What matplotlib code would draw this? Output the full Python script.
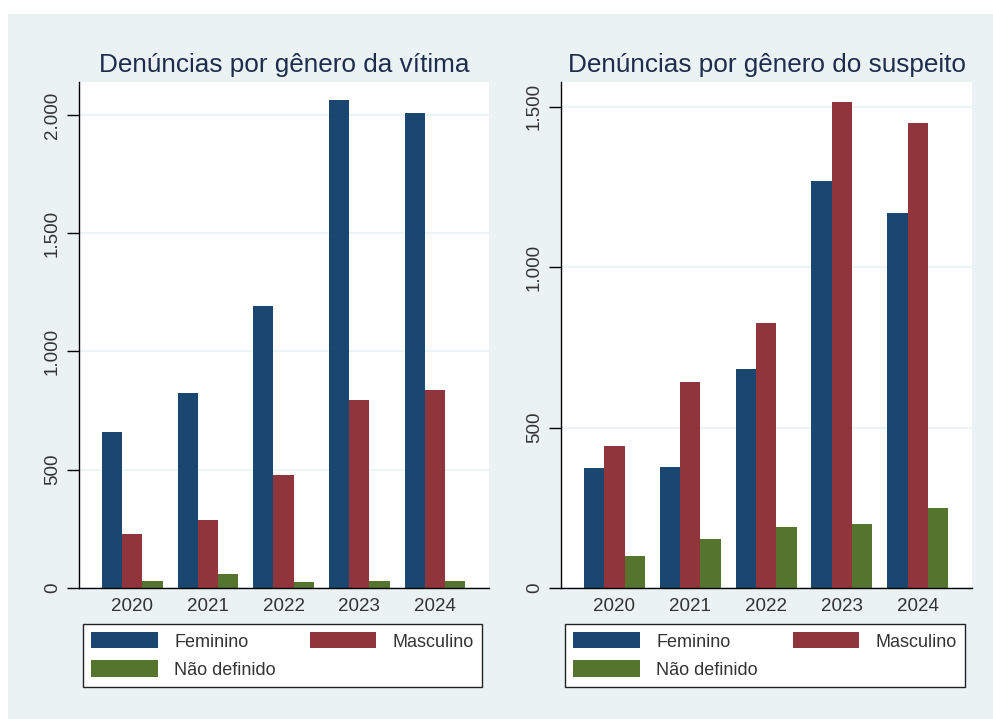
import matplotlib
matplotlib.use("Agg")
import matplotlib.pyplot as plt
import numpy as np
from matplotlib.patches import Rectangle, Patch

years = ["2020", "2021", "2022", "2023", "2024"]
series_names = ["Feminino", "Masculino", "Não definido"]

vitima_fem = [659, 823, 1191, 2064, 2006]
vitima_masc = [230, 289, 478, 795, 835]
vitima_nd = [31, 60, 26, 31, 31]

suspeito_fem = [373, 378, 681, 1270, 1169]
suspeito_masc = [444, 642, 825, 1516, 1448]
suspeito_nd = [100, 154, 190, 201, 250]

titles = ["Denúncias por gênero da vítima", "Denúncias por gênero do suspeito"]
yticks_left = [0, 500, 1000, 1500, 2000]
yticks_right = [0, 500, 1000, 1500]

colors = ["#1A476F", "#90353B", "#55752F"]
bg = "#EAF2F3"
title_color = "#1E2C4E"
text_color = "#333333"

plt.rcParams['font.family'] = ['Liberation Sans', 'DejaVu Sans']

W, H = 993, 719
fig = plt.figure(figsize=(W / 100, H / 100), dpi=100)
fig.patch.set_facecolor("white")
fig.add_artist(Rectangle((8 / W, 0), (W - 8) / W, (H - 14) / H,
                         transform=fig.transFigure, facecolor=bg,
                         edgecolor="none", zorder=-10))


def fmt(v):
    return f"{v:,}".replace(",", ".")


def panel(x0, x1, data, yticks, ymax, title):
    y0, y1 = 82, 588
    ax = fig.add_axes([x0 / W, 1 - y1 / H, (x1 - x0) / W, (y1 - y0) / H])
    ax.set_facecolor("white")
    x = np.arange(len(years))
    bw = 0.268
    for i, (vals, c) in enumerate(zip(data, colors)):
        ax.bar(x + (i - 1) * bw, vals, width=bw, color=c, linewidth=0, zorder=3)
    ax.set_xlim(-0.705, 4.715)
    ax.set_ylim(0, ymax)
    ax.set_yticks(yticks)
    ax.set_yticklabels([fmt(v) for v in yticks], rotation=90, va="center",
                       fontsize=13.5, color=text_color)
    ax.set_xticks(x)
    ax.set_xticklabels(years, fontsize=13.5, color=text_color)
    ax.tick_params(axis="x", length=0, pad=7)
    ax.tick_params(axis="y", length=9, width=1, pad=4, color="#000000")
    for y in yticks:
        ax.axhline(y, color=bg, lw=1.2, zorder=1)
    for s in ["top", "right"]:
        ax.spines[s].set_visible(False)
    for s in ["left", "bottom"]:
        ax.spines[s].set_color("#000000")
        ax.spines[s].set_linewidth(1)
        ax.spines[s].set_zorder(5)
    fig.text((x0 + x1) / 2 / W, 1 - 72 / H, title, ha="center", va="baseline",
             fontsize=18.8, color=title_color)
    # legend
    handles = [Patch(facecolor=colors[0], edgecolor="none", label=series_names[0]),
               Patch(facecolor=colors[2], edgecolor="none", label=series_names[2]),
               Patch(facecolor=colors[1], edgecolor="none", label=series_names[1])]
    lx0, lx1, ly0, ly1 = x0 + 4, x1 - 7, 624, 687
    leg = fig.legend(handles=handles, ncol=2, mode="expand",
                     bbox_to_anchor=(lx0 / W, 1 - ly1 / H, (lx1 - lx0) / W, (ly1 - ly0) / H),
                     loc="center", borderaxespad=0, fontsize=13,
                     handlelength=3.7, handleheight=1.0, handletextpad=0.9,
                     labelspacing=0.55, borderpad=0.45, columnspacing=1.5,
                     fancybox=False, frameon=True, labelcolor=text_color)
    fr = leg.get_frame()
    fr.set_edgecolor("#222222")
    fr.set_linewidth(1)
    fr.set_facecolor("white")
    fr.set_alpha(1)
    return ax


panel(79, 489, [vitima_fem, vitima_masc, vitima_nd], yticks_left, 2139, titles[0])
panel(561, 972, [suspeito_fem, suspeito_masc, suspeito_nd], yticks_right, 1577, titles[1])

fig.savefig("out.png", dpi=100)
